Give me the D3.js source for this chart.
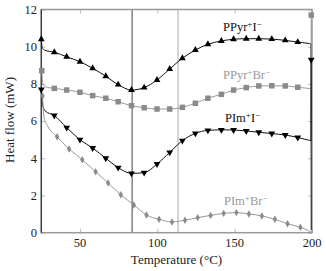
<!DOCTYPE html>
<html>
<head>
<meta charset="utf-8">
<script src="https://cdn.jsdelivr.net/npm/d3@7"></script>
<style>
  body { margin: 0; background: #fff; }
</style>
</head>
<body>
<script>
// marker temperatures (°C) for the three triangle/square series
var markTemps = [33.4, 41.4, 50.0, 58.2, 66.7, 74.7, 83.3, 91.5, 99.8, 108.0,
                 116.2, 124.6, 132.7, 141.4, 149.3, 157.5, 165.6, 174.0, 182.7, 190.8];
// marker temperatures for PIm+Br-
var diamondTemps = [35.2, 43.0, 51.5, 60.1, 68.2, 76.4, 84.8, 93.0, 101.1, 109.5,
                    117.9, 126.1, 134.5, 142.9, 151.1, 159.2, 167.6, 176.0, 184.2, 192.5];

var ppyrI  = [9.70, 9.46, 9.19, 8.84, 8.41, 7.96, 7.67, 7.80, 8.21, 8.80,
              9.38, 9.82, 10.13, 10.31, 10.40, 10.43, 10.43, 10.41, 10.34, 10.25];
var ppyrBr = [7.76, 7.67, 7.55, 7.37, 7.23, 7.04, 6.83, 6.72, 6.65, 6.65,
              6.74, 6.96, 7.23, 7.44, 7.67, 7.80, 7.89, 7.90, 7.89, 7.82];
var pimI   = [6.30, 5.65, 5.00, 4.55, 4.00, 3.50, 3.19, 3.23, 3.69, 4.32,
              4.95, 5.34, 5.50, 5.53, 5.52, 5.47, 5.40, 5.33, 5.25, 5.12];
var pimBr  = [5.16, 4.50, 3.92, 3.28, 2.67, 2.04, 1.49, 0.95, 0.72, 0.58,
              0.67, 0.81, 0.93, 1.04, 1.08, 1.01, 0.90, 0.72, 0.48, 0.29];

// start of each trace (steep drop) and end (vertical jump at 200 °C)
var ppyrIStart  = [[25.0, 10.40], [25.6, 9.95], [27.0, 9.82]];
var ppyrIEnd    = [[197.5, 10.18], [199.3, 10.15], [199.5, 0.15]];
var ppyrBrStart = [[25.3, 8.71], [25.9, 8.05], [27.5, 7.85]];
var ppyrBrEnd   = [[197.5, 7.76], [199.3, 7.74], [199.5, 11.70]];
var pimIStart   = [[25.0, 7.70], [25.9, 6.85], [27.5, 6.55]];
var pimIEnd     = [[197.5, 4.98], [199.3, 4.95], [199.5, 9.30]];
var pimBrStart  = [[25.8, 7.35], [26.8, 6.20], [29.0, 5.75]];
var pimBrEnd    = [[197.5, 0.12], [199.3, 0.05]];

var xTicks = [50, 100, 150, 200];
var yTicks = [0, 2, 4, 6, 8, 10, 12];
var vLineDark = 83.7, vLineLight = 113.4;

var width = 326, height = 271;
var pLeft = 41.3, pRight = 312, pTop = 9.5, pBottom = 232.7;
var serif = "'Liberation Serif'";

var svg = d3.select("body").append("svg")
    .attr("width", width)
    .attr("height", height)
    .style("font-family", serif);

var x = d3.scaleLinear().domain([25, 200]).range([pLeft, pRight]);
var y = d3.scaleLinear().domain([0, 12]).range([pBottom, pTop]);

// inner ticks on all four sides
var tickCol = "#bbb";
function styleTicks(g) {
    g.select(".domain").remove();
    g.selectAll("line").attr("stroke", tickCol);
}
svg.append("g").attr("transform", "translate(0," + pBottom + ")")
    .call(d3.axisBottom(x).tickValues(xTicks).tickSize(-4).tickFormat(""))
    .call(styleTicks);
svg.append("g").attr("transform", "translate(0," + pTop + ")")
    .call(d3.axisTop(x).tickValues(xTicks).tickSize(-4).tickFormat(""))
    .call(styleTicks);
svg.append("g").attr("transform", "translate(" + pLeft + ",0)")
    .call(d3.axisLeft(y).tickValues(yTicks).tickSize(-4).tickFormat(""))
    .call(styleTicks);
svg.append("g").attr("transform", "translate(" + pRight + ",0)")
    .call(d3.axisRight(y).tickValues(yTicks).tickSize(-4).tickFormat(""))
    .call(styleTicks);

// tick labels
svg.selectAll(".xlab").data(xTicks).enter().append("text")
    .style("font-family", serif)
    .attr("x", function(d) { return x(d); })
    .attr("y", 246.5)
    .attr("text-anchor", "middle")
    .attr("font-size", "12.5px")
    .attr("fill", "#222")
    .text(function(d) { return d; });
svg.selectAll(".ylab").data(yTicks).enter().append("text")
    .style("font-family", serif)
    .attr("x", 37)
    .attr("y", function(d) { return y(d) + 4.3; })
    .attr("text-anchor", "end")
    .attr("font-size", "12.5px")
    .attr("fill", "#222")
    .text(function(d) { return d; });

svg.append("text")
    .style("font-family", serif)
    .attr("x", 176.5).attr("y", 263.5)
    .attr("text-anchor", "middle")
    .attr("font-size", "13px")
    .attr("fill", "#222")
    .text("Temperature (°C)");
svg.append("text")
    .style("font-family", serif)
    .attr("transform", "translate(14,120) rotate(-90)")
    .attr("text-anchor", "middle")
    .attr("font-size", "13px")
    .attr("fill", "#222")
    .text("Heat flow (mW)");

// vertical reference lines
svg.append("line")
    .attr("x1", x(vLineDark)).attr("x2", x(vLineDark))
    .attr("y1", pTop).attr("y2", pBottom)
    .attr("stroke", "#444").attr("stroke-width", 1);
svg.append("line")
    .attr("x1", x(vLineLight)).attr("x2", x(vLineLight))
    .attr("y1", pTop).attr("y2", pBottom)
    .attr("stroke", "#aaa").attr("stroke-width", 1);

// frame
svg.append("rect")
    .attr("x", pLeft).attr("y", pTop)
    .attr("width", pRight - pLeft).attr("height", pBottom - pTop)
    .attr("fill", "none").attr("stroke", "#999").attr("stroke-width", 1.5);
svg.append("line")
    .attr("x1", pLeft).attr("x2", pLeft).attr("y1", pTop).attr("y2", pBottom)
    .attr("stroke", "#333").attr("stroke-width", 1.2);

var line = d3.line()
    .x(function(d) { return x(d[0]); })
    .y(function(d) { return y(d[1]); })
    .curve(d3.curveMonotoneX);

function zip(ts, vs) {
    return ts.map(function(t, i) { return [t, vs[i]]; });
}

var series = [
    { name: "PPyr", anion: "I", marks: zip(markTemps, ppyrI), start: ppyrIStart, end: ppyrIEnd,
      color: "#000", lineColor: "#111", symbol: d3.symbolTriangle, size: 20, rot: 0,
      extra: [ppyrIStart[0]], lx: 223, ly: 31 },
    { name: "PPyr", anion: "Br", marks: zip(markTemps, ppyrBr), start: ppyrBrStart, end: ppyrBrEnd,
      color: "#8a8a8a", lineColor: "#999", symbol: d3.symbolSquare, size: 30, rot: 0,
      extra: [ppyrBrStart[0], ppyrBrEnd[2]], lx: 223, ly: 79 },
    { name: "PIm", anion: "I", marks: zip(markTemps, pimI), start: pimIStart, end: pimIEnd,
      color: "#000", lineColor: "#111", symbol: d3.symbolTriangle, size: 20, rot: 180,
      extra: [pimIStart[0], pimIEnd[2]], lx: 225, ly: 122 },
    { name: "PIm", anion: "Br", marks: zip(diamondTemps, pimBr), start: pimBrStart, end: pimBrEnd,
      color: "#8a8a8a", lineColor: "#999", symbol: d3.symbolDiamond, size: 16, rot: 0,
      extra: [pimBrStart[0]], lx: 224, ly: 205 }
];

series.forEach(function(s) {
    var pts = s.start.concat(s.marks, s.end);
    svg.append("path")
        .datum(pts)
        .attr("fill", "none")
        .attr("stroke", s.lineColor)
        .attr("stroke-width", 1)
        .attr("d", line);

    svg.selectAll(null)
        .data(s.marks.concat(s.extra))
        .enter()
        .append("path")
        .attr("d", d3.symbol().type(s.symbol).size(s.size))
        .attr("fill", s.color)
        .attr("transform", function(d) {
            return "translate(" + x(d[0]) + "," + y(d[1]) + ") rotate(" + s.rot + ")";
        });

    var t = svg.append("text")
        .style("font-family", serif)
        .attr("x", s.lx).attr("y", s.ly)
        .attr("font-size", "12.5px")
        .attr("fill", s.color === "#000" ? "#111" : "#999");
    t.append("tspan").text(s.name);
    t.append("tspan").attr("dy", -4.5).attr("font-size", "9px").text("+");
    t.append("tspan").attr("dy", 4.5).text(s.anion);
    t.append("tspan").attr("dy", -4.5).attr("font-size", "9px").text("−");
});
</script>
</body>
</html>
